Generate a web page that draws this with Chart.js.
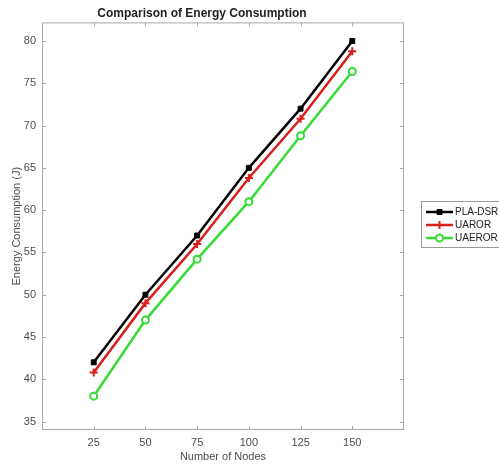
<!DOCTYPE html>
<html>
<head>
<meta charset="utf-8">
<script src="https://cdn.jsdelivr.net/npm/chart.js@4/dist/chart.umd.min.js"></script>
<style>
  html, body { margin: 0; padding: 0; background: #fff; }
  #wrap { width: 499px; height: 466px; }
</style>
</head>
<body>
<div id="wrap"><canvas id="myChart" width="499" height="466"></canvas></div>
<script>
// data
var nodes = [25, 50, 75, 100, 125, 150];
var plaDsr = [42, 50, 57, 65, 72, 80];
var uaror = [40.8, 49, 56, 63.8, 70.8, 78.8];
var uaeror = [38, 47, 54.2, 61, 68.8, 76.4];
var seriesNames = ["PLA-DSR", "UAROR", "UAEROR"];
var xTicks = [25, 50, 75, 100, 125, 150];
var yTicks = [35, 40, 45, 50, 55, 60, 65, 70, 75, 80];

var textColor = "#4d4d4d";
var frameColor = "#a8a8a8";

function toPoints(vals) {
  return nodes.map(function (n, i) { return { x: n, y: vals[i] }; });
}

// box around the axes plus MATLAB-style inward ticks
var framePlugin = {
  id: "frame",
  afterDraw: function (chart) {
    var c = chart.ctx, a = chart.chartArea;
    var xs = chart.scales.x, ys = chart.scales.y;
    c.save();
    c.strokeStyle = frameColor;
    c.lineWidth = 1;
    c.strokeRect(a.left + 0.5, a.top + 0.5, a.right - a.left - 1, a.bottom - a.top - 1);
    c.beginPath();
    xTicks.forEach(function (v) {
      var px = Math.round(xs.getPixelForValue(v)) + 0.5;
      c.moveTo(px, a.bottom); c.lineTo(px, a.bottom - 4);
      c.moveTo(px, a.top); c.lineTo(px, a.top + 4);
    });
    yTicks.forEach(function (v) {
      var py = Math.round(ys.getPixelForValue(v)) + 0.5;
      c.moveTo(a.left, py); c.lineTo(a.left + 4, py);
      c.moveTo(a.right, py); c.lineTo(a.right - 4, py);
    });
    c.stroke();

    // legend box
    var lx = 421, ly = 201, lw = 80, lh = 47;
    c.fillStyle = "#fff";
    c.fillRect(lx, ly, lw, lh);
    c.strokeStyle = "#9a9a9a";
    c.lineWidth = 1;
    c.strokeRect(lx + 0.5, ly + 0.5, lw - 1, lh - 1);
    c.font = "10px Arial, 'Liberation Sans', sans-serif";
    c.textBaseline = "middle";
    chart.data.datasets.forEach(function (ds, i) {
      var yy = ly + 11 + i * 13;
      c.strokeStyle = ds.borderColor;
      c.lineWidth = 2.5;
      c.beginPath(); c.moveTo(lx + 5, yy); c.lineTo(lx + 32, yy); c.stroke();
      c.fillStyle = ds.backgroundColor;
      c.lineWidth = ds.pointBorderWidth;
      Chart.helpers.drawPoint(c, {
        pointStyle: ds.pointStyle, radius: ds.pointRadius, borderWidth: ds.pointBorderWidth, rotation: 0
      }, lx + 18.5, yy);
      c.fillStyle = "#222";
      c.fillText(seriesNames[i], lx + 34, yy + 0.5);
    });
    c.restore();
  }
};

var ctx = document.getElementById("myChart").getContext("2d");

var myChart = new Chart(ctx, {
  type: "line",
  data: {
    datasets: [
      {
        label: seriesNames[0],
        data: toPoints(plaDsr),
        borderColor: "#000000",
        backgroundColor: "#000000",
        borderWidth: 2.5,
        pointStyle: "rect",
        pointRadius: 3.5,
        pointBorderWidth: 1
      },
      {
        label: seriesNames[1],
        data: toPoints(uaror),
        borderColor: "#d71f1f",
        backgroundColor: "#d71f1f",
        borderWidth: 2.5,
        pointStyle: "cross",
        pointRadius: 4,
        pointBorderWidth: 2
      },
      {
        label: seriesNames[2],
        data: toPoints(uaeror),
        borderColor: "#35dc35",
        backgroundColor: "#ffffff",
        borderWidth: 2.5,
        pointStyle: "circle",
        pointRadius: 3.5,
        pointBorderWidth: 2
      }
    ]
  },
  options: {
    responsive: false,
    animation: false,
    layout: { padding: { left: 0, right: 95, top: 0, bottom: 0 } },
    plugins: {
      legend: { display: false },
      tooltip: { enabled: false },
      title: {
        display: true,
        text: "Comparison of Energy Consumption",
        color: "#222",
        font: { family: "Arial, 'Liberation Sans', sans-serif", size: 12, weight: "bold" },
        padding: { top: 6, bottom: 2 }
      }
    },
    scales: {
      x: {
        type: "linear",
        min: 0,
        max: 175,
        afterBuildTicks: function (s) { s.ticks = xTicks.map(function (v) { return { value: v }; }); },
        afterFit: function (s) { s.height = 36; },
        grid: { display: false, drawTicks: false },
        border: { display: false },
        ticks: { color: textColor, padding: 6, font: { family: "Arial, 'Liberation Sans', sans-serif", size: 11 } },
        title: {
          display: true,
          text: "Number of Nodes",
          color: textColor,
          padding: { top: 0, bottom: 2 },
          font: { family: "Arial, 'Liberation Sans', sans-serif", size: 11 }
        }
      },
      y: {
        min: 34,
        max: 82.2,
        afterBuildTicks: function (s) { s.ticks = yTicks.map(function (v) { return { value: v }; }); },
        afterFit: function (s) { s.width = 42; },
        grid: { display: false, drawTicks: false },
        border: { display: false },
        ticks: { color: textColor, padding: 6, font: { family: "Arial, 'Liberation Sans', sans-serif", size: 11 } },
        title: {
          display: true,
          text: "Energy Consumption (J)",
          color: textColor,
          padding: { top: 10, bottom: 0 },
          font: { family: "Arial, 'Liberation Sans', sans-serif", size: 11 }
        }
      }
    }
  },
  plugins: [framePlugin]
});
</script>
</body>
</html>
